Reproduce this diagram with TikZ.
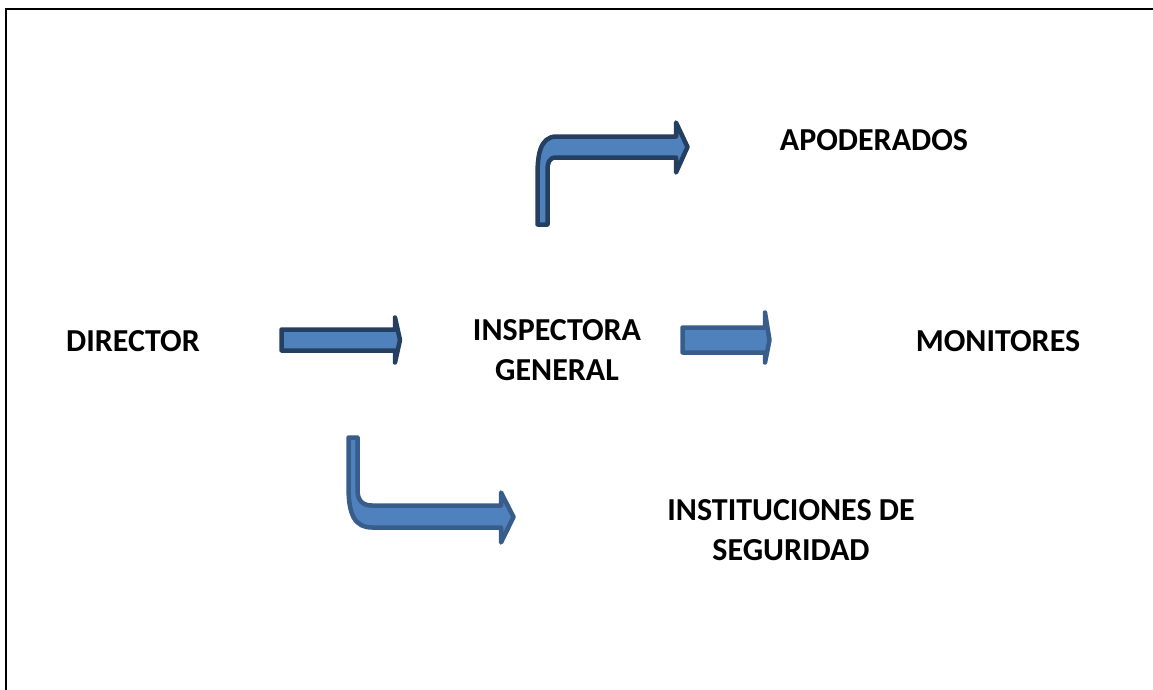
\documentclass[tikz,border=0pt]{standalone}
\usepackage{fontspec}
\setmainfont{Carlito}
\definecolor{flecha}{HTML}{4F81BD}
\definecolor{bordeoscuro}{HTML}{243F60}
\definecolor{borde}{HTML}{385D8A}
\begin{document}
\begin{tikzpicture}[x=1pt, y=-1pt,
        etiqueta/.style={font=\fontsize{32}{40}\selectfont\bfseries, align=center},
        bloque/.style={fill=flecha, draw=borde, line width=4.5pt, line join=round}]
            \useasboundingbox (0, 0) rectangle (1153, 690);
            \draw[line width=2pt] (6, 690) -- (6, 9) -- (1153, 9);
            \node[etiqueta] (director) at (133, 341) {DIRECTOR};
            \node[etiqueta] (inspectora) at (557, 350) {INSPECTORA\\GENERAL};
            \node[etiqueta] (apoderados) at (874, 140) {APODERADOS};
            \node[etiqueta] (monitores) at (998, 341) {MONITORES};
            \node[etiqueta] (instituciones) at (791, 530) {INSTITUCIONES DE\\SEGURIDAD};
            % flechas rectas
            \draw[bloque, draw=bordeoscuro] (281.5, 329.5) -- (395, 329.5) -- (395, 317.5) -- (400, 340)
                -- (395, 362.5) -- (395, 350.5) -- (281.5, 350.5) -- cycle;
            \draw[bloque] (682.5, 327.5) -- (765, 327.5) -- (765, 312.5) -- (769.5, 340)
                -- (765, 362.5) -- (765, 352.5) -- (682.5, 352.5) -- cycle;
            % flechas dobladas
            \draw[bloque, draw=bordeoscuro] (537.5, 224.5) -- (537.5, 175)
                .. controls (537.5, 155) and (540, 137) .. (556, 136.5) -- (676, 136.5) -- (676, 122.5)
                -- (687.5, 147) -- (676, 172.5) -- (676, 157.5) -- (556, 157.5)
                .. controls (549, 157.5) and (547.5, 163) .. (547.5, 170) -- (547.5, 224.5) -- cycle;
            \draw[bloque] (348.5, 437.5) -- (348.5, 487)
                .. controls (348.5, 515) and (355, 527.5) .. (372, 527.5) -- (501, 527.5) -- (501, 542.5)
                -- (513.5, 517) -- (501, 492.5) -- (501, 505.5) -- (372, 505.5)
                .. controls (362, 505.5) and (357.5, 500) .. (357.5, 490) -- (357.5, 437.5) -- cycle;
        \end{tikzpicture}
\end{document}
